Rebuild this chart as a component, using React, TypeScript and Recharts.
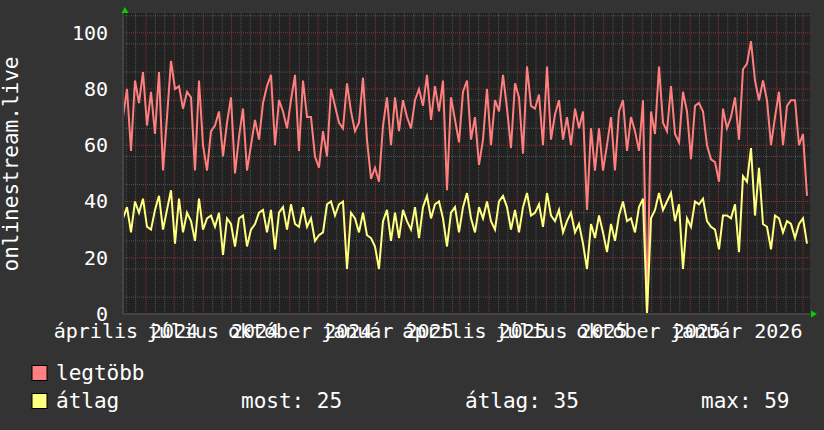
import { CartesianGrid, Line, LineChart, XAxis, YAxis } from "recharts";

// values, one point every ~4 days
const legtobb = [
  70, 80, 58, 83, 75, 86, 67, 79, 64, 86,
  51, 70, 90, 80, 81, 73, 79, 77, 51, 83,
  60, 51, 65, 67, 72, 56, 68, 77, 50, 63,
  73, 51, 60, 69, 62, 75, 81, 85, 60, 76,
  72, 66, 76, 85, 58, 83, 70, 70, 56, 52,
  65, 56, 80, 74, 68, 66, 82, 72, 65, 68,
  84, 62, 48, 52, 47, 67, 77, 60, 77, 65,
  76, 70, 66, 76, 80, 74, 85, 69, 81, 72,
  83, 44, 77, 69, 61, 79, 83, 62, 70, 53,
  62, 80, 60, 76, 72, 85, 73, 59, 82, 77,
  57, 88, 74, 73, 78, 60, 88, 62, 71, 76,
  62, 70, 60, 73, 66, 72, 37, 66, 51, 66,
  51, 60, 70, 51, 72, 76, 58, 70, 65, 58,
  76, 0, 72, 64, 88, 68, 65, 81, 64, 61,
  79, 72, 55, 74, 75, 72, 60, 55, 54, 47,
  73, 66, 70, 77, 62, 87, 89, 97, 83, 76,
  83, 76, 60, 70, 79, 60, 74, 76, 76, 60,
  64, 42
];

const atlag = [
  34, 38, 29, 40, 36, 41, 31, 30, 37, 42,
  30, 37, 44, 25, 41, 29, 36, 33, 26, 41,
  30, 34, 35, 31, 36, 21, 34, 32, 24, 34,
  35, 24, 30, 32, 36, 37, 29, 37, 23, 36,
  38, 30, 39, 32, 31, 38, 31, 34, 26, 28,
  29, 39, 40, 35, 39, 40, 16, 36, 34, 29,
  36, 28, 27, 24, 16, 33, 37, 26, 36, 27,
  37, 33, 30, 38, 27, 38, 42, 34, 39, 40,
  34, 24, 36, 38, 29, 38, 43, 34, 29, 38,
  34, 40, 33, 30, 40, 42, 38, 30, 37, 29,
  38, 43, 35, 36, 39, 31, 43, 35, 33, 37,
  29, 33, 36, 29, 32, 25, 16, 32, 27, 35,
  29, 22, 32, 26, 35, 40, 33, 34, 29, 38,
  41, 0, 34, 37, 43, 37, 40, 43, 33, 39,
  16, 34, 31, 40, 39, 41, 33, 31, 30, 23,
  35, 35, 34, 39, 22, 49, 47, 59, 35, 52,
  32, 31, 23, 35, 34, 29, 33, 32, 27, 32,
  34, 25
];

const yTicks = [0, 20, 40, 60, 80, 100];
const monthLabels = [
  "április 2024",
  "július 2024",
  "október 2024",
  "január 2025",
  "április 2025",
  "július 2025",
  "október 2025",
  "január 2026"
];
const labelPos = [0.75, 22.5, 44.3, 66.1, 87.9, 109.6, 131.4, 153.3];

const X_MAX = 171.75;
const FONT = "'DejaVu Sans Mono', monospace";
const MINOR = "rgba(150,150,150,0.42)";
const MAJOR = "rgba(215,60,60,0.6)";

const data = legtobb.map((v, i) => ({ i, legtobb: v, atlag: atlag[i] }));

// grid: a red line on the 1st of each month, gray ones on the 11th and 21st
const APR_2024 = Date.UTC(2024, 3, 1);
const toIdx = (m: number, d: number) => 5.75 + (Date.UTC(2024, m, d) - APR_2024) / 86400000 / 4.256;
const majorX: number[] = [];
const minorX: number[] = [];
for (let m = 2; m <= 26; m++) {
  const a = toIdx(m, 1);
  if (a > 0 && a < X_MAX) majorX.push(a);
  for (const d of [11, 21]) {
    const b = toIdx(m, d);
    if (b > 0 && b < X_MAX) minorX.push(b);
  }
}
const allX = [...minorX, ...majorX].sort((a, b) => a - b);
const majorY = [20, 40, 60, 80, 100];
const minorY: number[] = [];
for (let v = 2; v <= 106; v += 2) if (v % 20 !== 0) minorY.push(v);

function XTick({ x, payload }: any) {
  const k = labelPos.indexOf(payload.value);
  return (
    <text x={x} y={338} textAnchor="middle" fill="#fff" fontFamily={FONT} fontSize={20}>
      {monthLabels[k] ?? ""}
    </text>
  );
}

// little grid stubs poking out under and over the plot, like rrdtool draws them
function StubTick({ x, payload, top }: any) {
  const major = majorX.includes(payload.value);
  const y1 = top ? 10 : 314;
  const y2 = top ? 13 : 318;
  return <line x1={x} x2={x} y1={y1} y2={y2} stroke={major ? MAJOR : MINOR} strokeDasharray="1 1" />;
}

function YTick({ y, payload }: any) {
  return (
    <text x={108} y={y + 7} textAnchor="end" fill="#fff" fontFamily={FONT} fontSize={20}>
      {payload.value}
    </text>
  );
}

export default function App() {
  return (
    <div style={{ position: "absolute", left: 0, top: 0, width: 824, height: 430, background: "#333" }}>
      <LineChart width={824} height={430} data={data} margin={{ top: 13, right: 14, bottom: 86, left: 0 }}>
        <CartesianGrid
          fill="#222"
          stroke={MINOR}
          strokeDasharray="1 1"
          horizontalValues={minorY}
          verticalValues={minorX}
        />
        <CartesianGrid
          stroke={MAJOR}
          strokeDasharray="1 1"
          horizontalValues={majorY}
          verticalValues={majorX}
        />
        <XAxis
          xAxisId="stubTop"
          orientation="top"
          type="number"
          dataKey="i"
          domain={[0, X_MAX]}
          ticks={allX}
          interval={0}
          height={0}
          axisLine={false}
          tickLine={false}
          tick={<StubTick top />}
        />
        <XAxis
          xAxisId="stubBottom"
          type="number"
          dataKey="i"
          domain={[0, X_MAX]}
          ticks={allX}
          interval={0}
          height={0}
          axisLine={false}
          tickLine={false}
          tick={<StubTick />}
        />
        <XAxis
          type="number"
          dataKey="i"
          domain={[0, X_MAX]}
          ticks={labelPos}
          interval={0}
          height={30}
          tickLine={false}
          axisLine={{ stroke: "#444", strokeWidth: 2 }}
          tick={<XTick />}
        />
        <YAxis
          type="number"
          domain={[0, 107]}
          ticks={yTicks}
          width={123}
          tickLine={false}
          axisLine={{ stroke: "#444", strokeWidth: 2 }}
          tick={<YTick />}
        />
        <Line type="linear" dataKey="legtobb" stroke="#ff7f7f" strokeWidth={2} dot={false} isAnimationActive={false} />
        <Line type="linear" dataKey="atlag" stroke="#ffff80" strokeWidth={2} dot={false} isAnimationActive={false} />
      </LineChart>
      <svg width={824} height={430} style={{ position: "absolute", left: 0, top: 0, pointerEvents: "none" }}>
        <polygon points="125,7 121.5,13 128.5,13" fill="#00d000" />
        <polygon points="817,314 811,310.5 811,317.5" fill="#00d000" />
        <text transform="rotate(-90)" x={-164} y={18} textAnchor="middle" fill="#fff" fontFamily={FONT} fontSize={21}>
          onlinestream.live
        </text>
        <rect x={32} y={365.5} width={15} height={15} fill="#ff8080" stroke="#000" />
        <text x={56} y={380} fill="#fff" fontFamily={FONT} fontSize={21}>legtöbb</text>
        <rect x={32} y={393.5} width={15} height={15} fill="#ffff80" stroke="#000" />
        <text x={56} y={408} fill="#fff" fontFamily={FONT} fontSize={21}>átlag</text>
        <text x={241} y={408} fill="#fff" fontFamily={FONT} fontSize={21}>most: 25</text>
        <text x={465} y={408} fill="#fff" fontFamily={FONT} fontSize={21}>átlag: 35</text>
        <text x={701} y={408} fill="#fff" fontFamily={FONT} fontSize={21}>max: 59</text>
      </svg>
    </div>
  );
}
